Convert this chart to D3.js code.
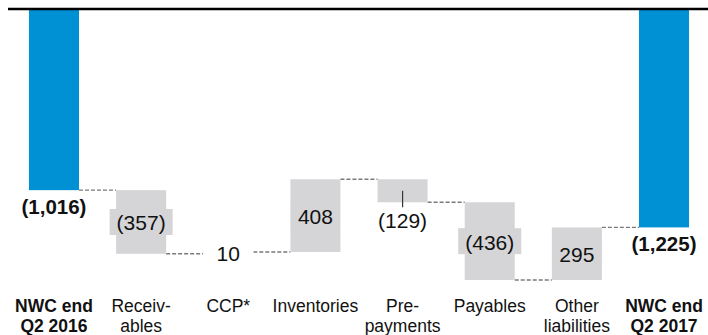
<!DOCTYPE html>
<html>
<head>
<meta charset="utf-8">
<script src="https://cdn.jsdelivr.net/npm/d3@7"></script>
<style>
  html, body { margin: 0; padding: 0; background: #fff; }
  svg { display: block; }
  text { font-family: "Liberation Sans", Arial, Helvetica, sans-serif; fill: #111; }
</style>
</head>
<body>
<svg id="chart" width="708" height="335"></svg>
<script>
// Net working capital bridge, Q2 2016 -> Q2 2017
const categories = [
  ["NWC end", "Q2 2016"],
  ["Receiv-", "ables"],
  ["CCP*"],
  ["Inventories"],
  ["Pre-", "payments"],
  ["Payables"],
  ["Other", "liabilities"],
  ["NWC end", "Q2 2017"]
];
const values = [-1016, -357, 10, 408, -129, -436, 295, -1225];
const kinds = ["total", "delta", "delta", "delta", "delta", "delta", "delta", "total"];
const yDomain = [0, -1600];

const W = 708, H = 335;
const BLUE = "#0091d5", GREY = "#d5d5d7", DASH = "#7a7a7a";

const svg = d3.select("#chart");

const x = d3.scaleBand()
  .domain(d3.range(categories.length))
  .range([10.4, 707.6])
  .paddingInner(0.426)
  .paddingOuter(0.213);

const y = d3.scaleLinear().domain(yDomain).range([9, 9 + 1600 * 0.1783]);

// running totals -> start/end of each bar
let run = 0;
const bars = values.map((v, i) => {
  let start, end;
  if (kinds[i] === "total") { start = 0; end = v; }
  else { start = run; end = run + v; }
  run = end;
  return { i, v, kind: kinds[i], start, end };
});

const fmt = v => {
  const s = d3.format(",")(Math.abs(v));
  return v < 0 ? "(" + s + ")" : s;
};

// connectors between consecutive bars
const conn = svg.append("g");
bars.slice(0, -1).forEach((b, k) => {
  const nb = bars[k + 1];
  conn.append("line")
    .attr("x1", x(b.i) + x.bandwidth())
    .attr("x2", x(nb.i))
    .attr("y1", y(b.end))
    .attr("y2", y(b.end))
    .attr("stroke", DASH)
    .attr("stroke-width", 1.4)
    .attr("stroke-dasharray", "4,2");
});

// bars
svg.append("g").selectAll("rect")
  .data(bars)
  .join("rect")
  .attr("x", d => x(d.i))
  .attr("width", x.bandwidth())
  .attr("y", d => Math.min(y(d.start), y(d.end)))
  .attr("height", d => Math.abs(y(d.end) - y(d.start)))
  .attr("fill", d => d.kind === "total" ? BLUE : GREY);

// zero line along the top
svg.append("line")
  .attr("x1", 8).attr("x2", W)
  .attr("y1", y(0)).attr("y2", y(0))
  .attr("stroke", "#000").attr("stroke-width", 2.5);

// value labels
const lab = svg.append("g");
bars.forEach(b => {
  const cx = x(b.i) + x.bandwidth() / 2;
  const top = Math.min(y(b.start), y(b.end));
  const bot = Math.max(y(b.start), y(b.end));
  const h = bot - top;
  const mid = (top + bot) / 2;
  if (b.kind === "total") {
    lab.append("text")
      .attr("x", cx).attr("y", bot + 24)
      .attr("text-anchor", "middle")
      .attr("font-size", 20.5).attr("font-weight", "bold")
      .text(fmt(b.v));
    return;
  }
  if (h >= 30 || h < 5) {
    const g = lab.append("g");
    const box = g.append("rect");
    const t = g.append("text")
      .attr("x", cx).attr("y", mid + 8.5)
      .attr("text-anchor", "middle")
      .attr("font-size", 21)
      .text(fmt(b.v));
    const tw = t.node().getComputedTextLength();
    const bw = h < 5 ? Math.max(tw + 14, x.bandwidth()) : tw + 14;
    box.attr("x", cx - bw / 2).attr("width", bw)
      .attr("y", mid - 13).attr("height", 26)
      .attr("fill", h < 5 ? "#fff" : GREY);
  } else {
    // short bar: label below with a leader
    lab.append("line")
      .attr("x1", cx).attr("x2", cx)
      .attr("y1", mid).attr("y2", bot + 5)
      .attr("stroke", "#333").attr("stroke-width", 1.2);
    lab.append("text")
      .attr("x", cx).attr("y", bot + 25.5)
      .attr("text-anchor", "middle")
      .attr("font-size", 21)
      .text(fmt(b.v));
  }
});

// category labels
const cat = svg.append("g");
categories.forEach((lines, i) => {
  const t = cat.append("text")
    .attr("x", x(i) + x.bandwidth() / 2)
    .attr("y", 311.5)
    .attr("text-anchor", "middle")
    .attr("font-size", 17.5)
    .attr("font-weight", kinds[i] === "total" ? "bold" : "normal");
  lines.forEach((ln, k) => {
    t.append("tspan")
      .attr("x", x(i) + x.bandwidth() / 2)
      .attr("dy", k === 0 ? 0 : 20)
      .text(ln);
  });
});
</script>
</body>
</html>
